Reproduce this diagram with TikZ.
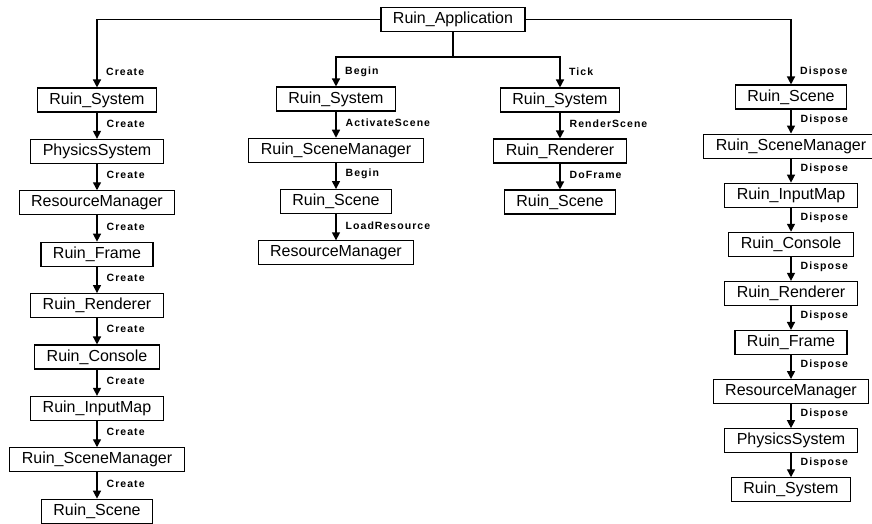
\documentclass[tikz,border=0pt]{standalone}
\usepackage{fontspec}
\setmainfont{Liberation Sans}
\newfontfamily\lblfont[LetterSpace=10]{Liberation Sans}
\usetikzlibrary{positioning,arrows.meta}

\tikzset{
  box/.style={draw, line width=1.1pt, minimum height=24pt, inner xsep=12pt, inner ysep=2pt,
    font=\fontsize{16}{18}\selectfont},
  flow/.style={line width=1.4pt, -{Triangle[width=8pt,length=8pt]}},
  link/.style={line width=1.3pt},
  lbl/.style={right, xshift=8pt, yshift=2pt, inner sep=1pt,
    font=\lblfont\bfseries\fontsize{10.5}{12}\selectfont},
}

\begin{document}
\begin{tikzpicture}[x=1pt, y=-1pt]
        \useasboundingbox (0,0) rectangle (872,524);

        % root
        \node[box] (app) at (453,19.5) {Ruin\_Application};
        \coordinate (split) at (app.south |- 0,57);

        % Create
        \node[box] (c1sys) at (97,100) {Ruin\_System};
        \node[box, below=26.3pt of c1sys] (c1phy) {PhysicsSystem};
        \node[box, below=26.3pt of c1phy] (c1res) {ResourceManager};
        \node[box, below=26.3pt of c1res] (c1frm) {Ruin\_Frame};
        \node[box, below=26.3pt of c1frm] (c1ren) {Ruin\_Renderer};
        \node[box, below=26.3pt of c1ren] (c1con) {Ruin\_Console};
        \node[box, below=26.3pt of c1con] (c1inp) {Ruin\_InputMap};
        \node[box, below=26.3pt of c1inp] (c1mgr) {Ruin\_SceneManager};
        \node[box, below=26.3pt of c1mgr] (c1scn) {Ruin\_Scene};

        % Begin
        \node[box] (c2sys) at (336,99) {Ruin\_System};
        \node[box, below=26.2pt of c2sys] (c2mgr) {Ruin\_SceneManager};
        \node[box, below=26.2pt of c2mgr] (c2scn) {Ruin\_Scene};
        \node[box, below=26.2pt of c2scn] (c2res) {ResourceManager};

        % Tick
        \node[box] (c3sys) at (560,100) {Ruin\_System};
        \node[box, below=25.9pt of c3sys] (c3ren) {Ruin\_Renderer};
        \node[box, below=25.9pt of c3ren] (c3scn) {Ruin\_Scene};

        % Dispose
        \node[box] (c4scn) at (791,97) {Ruin\_Scene};
        \node[box, below=24pt of c4scn] (c4mgr) {Ruin\_SceneManager};
        \node[box, below=24pt of c4mgr] (c4inp) {Ruin\_InputMap};
        \node[box, below=24pt of c4inp] (c4con) {Ruin\_Console};
        \node[box, below=24pt of c4con] (c4ren) {Ruin\_Renderer};
        \node[box, below=24pt of c4ren] (c4frm) {Ruin\_Frame};
        \node[box, below=24pt of c4frm] (c4res) {ResourceManager};
        \node[box, below=24pt of c4res] (c4phy) {PhysicsSystem};
        \node[box, below=24pt of c4phy] (c4sys) {Ruin\_System};

        % branches from the application
        \draw[flow] (app.west) -| (c1sys);
        \draw[flow] (app.east) -| (c4scn);
        \draw[link] (app) -- (split);
        \draw[flow] (split) -| (c2sys);
        \draw[flow] (split) -| (c3sys);
        \node[lbl] (lcreate) at ([yshift=14pt]c1sys.north) {Create};
        \node[lbl] (lbegin) at ([yshift=13pt]c2sys.north) {Begin};
        \node[lbl] (ltick) at ([yshift=14pt]c3sys.north) {Tick};
        \node[lbl] (ldispose) at ([yshift=11pt]c4scn.north) {Dispose};

        % create chain
        \draw[flow] (c1sys) -- node[lbl] {Create} (c1phy);
        \draw[flow] (c1phy) -- node[lbl] {Create} (c1res);
        \draw[flow] (c1res) -- node[lbl] {Create} (c1frm);
        \draw[flow] (c1frm) -- node[lbl] {Create} (c1ren);
        \draw[flow] (c1ren) -- node[lbl] {Create} (c1con);
        \draw[flow] (c1con) -- node[lbl] {Create} (c1inp);
        \draw[flow] (c1inp) -- node[lbl] {Create} (c1mgr);
        \draw[flow] (c1mgr) -- node[lbl] {Create} (c1scn);

        % begin chain
        \draw[flow] (c2sys) -- node[lbl] {ActivateScene} (c2mgr);
        \draw[flow] (c2mgr) -- node[lbl] {Begin} (c2scn);
        \draw[flow] (c2scn) -- node[lbl] {LoadResource} (c2res);

        % tick chain
        \draw[flow] (c3sys) -- node[lbl] {RenderScene} (c3ren);
        \draw[flow] (c3ren) -- node[lbl] {DoFrame} (c3scn);

        % dispose chain
        \draw[flow] (c4scn) -- node[lbl] {Dispose} (c4mgr);
        \draw[flow] (c4mgr) -- node[lbl] {Dispose} (c4inp);
        \draw[flow] (c4inp) -- node[lbl] {Dispose} (c4con);
        \draw[flow] (c4con) -- node[lbl] {Dispose} (c4ren);
        \draw[flow] (c4ren) -- node[lbl] {Dispose} (c4frm);
        \draw[flow] (c4frm) -- node[lbl] {Dispose} (c4res);
        \draw[flow] (c4res) -- node[lbl] {Dispose} (c4phy);
        \draw[flow] (c4phy) -- node[lbl] {Dispose} (c4sys);
    \end{tikzpicture}
\end{document}
